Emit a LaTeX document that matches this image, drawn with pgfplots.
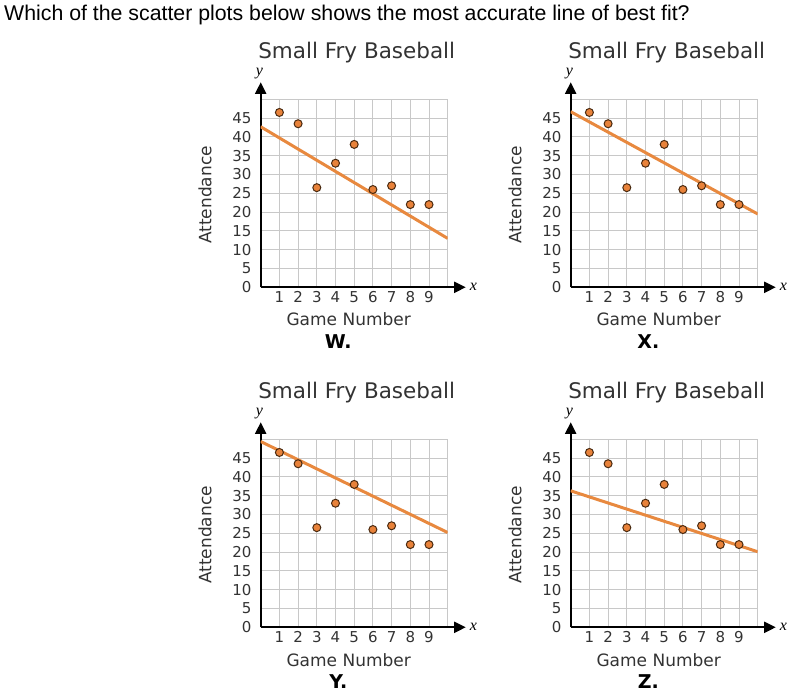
\documentclass[border=0pt]{standalone}
\usepackage{fontspec}
\usepackage{pgfplots}
\pgfplotsset{compat=1.18}
\usetikzlibrary{arrows.meta}
\newfontfamily\dv{DejaVu Sans}
\newfontfamily\lsans{Liberation Sans}
\newfontfamily\lser{Liberation Serif}
\definecolor{gridgray}{HTML}{C8C8C8}
\definecolor{labelgray}{HTML}{333333}
\definecolor{lineorange}{HTML}{E8893F}
\definecolor{markorange}{HTML}{E8823A}
\definecolor{markedge}{HTML}{4A2A10}

% #1 dx, #2 dy (image pixels), #3 line value at x=0, #4 line value at x=10, #5 letter
\newcommand{\panel}[5]{%
  \begin{axis}[
    at={({260.7pt+#1pt},{411.7pt-#2pt})}, anchor=origin,
    x=18.7pt, y=3.76pt,
    xmin=0, xmax=10, ymin=0, ymax=50,
    axis lines=left,
    axis line style={black, line width=1.8pt},
    x axis line style={-{Triangle[length=11.5pt,width=11pt]}, shorten >=-18pt},
    y axis line style={-{Triangle[length=11.5pt,width=11pt]}, shorten >=-17pt},
    xtick={0,1,2,3,4,5,6,7,8,9,10},
    xticklabels={,1,2,3,4,5,6,7,8,9,},
    ytick={0,5,10,15,20,25,30,35,40,45,50},
    yticklabels={0,5,10,15,20,25,30,35,40,45,},
    grid=major,
    major grid style={draw=gridgray, line width=1pt},
    major tick length=0pt,
    /pgf/number format/assume math mode=true,
    tick label style={font=\dv\fontsize{15}{15}\selectfont, text=labelgray},
    xticklabel style={anchor=center, yshift=-9.4pt},
    yticklabel style={anchor=east, inner sep=0pt, xshift=-9pt},
  ]
    \addplot[lineorange, line width=3pt, no marks] coordinates {(0,#3) (10,#4)};
    \addplot[only marks, mark=*, mark size=4pt,
      mark options={fill=markorange, draw=markedge, line width=1pt}]
      coordinates {(1,46.5) (2,43.5) (3,26.5) (4,33) (5,38) (6,26) (7,27) (8,22) (9,22)};
  \end{axis}
  \node[anchor=base, inner sep=0pt, text=labelgray, font=\dv\fontsize{21.5}{21.5}\selectfont]
    at ({356.7+#1},{640.7-#2}) {Small Fry Baseball};
  \node[inner sep=0pt, font=\lser\itshape\fontsize{16}{16}\selectfont]
    at ({259.3+#1},{625.7-#2}) {y};
  \node[inner sep=0pt, font=\lser\itshape\fontsize{16}{16}\selectfont]
    at ({473.3+#1},{411.7-#2}) {x};
  \node[rotate=90, inner sep=0pt, text=labelgray, font=\dv\fontsize{17}{17}\selectfont]
    at ({205+#1},{504-#2}) {Attendance};
  \node[anchor=base, inner sep=0pt, text=labelgray, font=\dv\fontsize{17}{17}\selectfont]
    at ({348.7+#1},{373-#2}) {Game Number};
  \node[anchor=base, inner sep=0pt, font=\dv\bfseries\fontsize{19}{19}\selectfont]
    at ({338.3+#1},{350.7-#2}) {#5};
}

\begin{document}
\begin{tikzpicture}[x=1pt, y=1pt]
  \path[use as bounding box] (0,0) rectangle (800,699);
  \node[anchor=base west, inner sep=0pt, font=\lsans\fontsize{21.3}{21.3}\selectfont]
    at (4,678.3) {Which of the scatter plots below shows the most accurate line of best fit?};
  \panel{0}{0}{42.7}{13.0}{W.}
  \panel{310}{0}{46.7}{19.5}{X.}
  \panel{0}{340}{49.4}{25.2}{Y.}
  \panel{310}{340}{36.3}{20.1}{Z.}
\end{tikzpicture}
\end{document}
